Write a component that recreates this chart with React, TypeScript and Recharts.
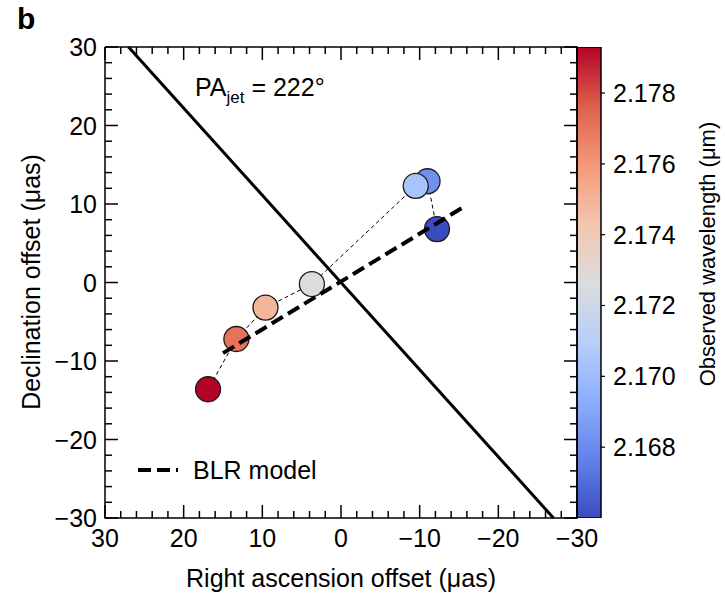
import { ScatterChart, Scatter, XAxis, YAxis, Legend, BarChart, Bar } from 'recharts';

// photocentre offsets (µas), ordered by wavelength from blue to red
const RA_OFFSET = [-12.2, -11.0, -9.5, 3.7, 9.6, 13.3, 16.9];
const DEC_OFFSET = [6.8, 12.9, 12.3, -0.2, -3.2, -7.2, -13.6];
const WAVELENGTH = [2.166, 2.1682, 2.1704, 2.1727, 2.1749, 2.1771, 2.1793];

// BLR model track end points
const BLR_RA = [15.0, -15.4];
const BLR_DEC = [-9.0, 9.5];

const PA_JET = 222; // deg, east of north

const OFFSET_DOMAIN = [-30, 30];
const OFFSET_TICKS = [-30, -28, -26, -24, -22, -20, -18, -16, -14, -12, -10, -8, -6, -4, -2, 0, 2, 4, 6, 8, 10, 12, 14, 16, 18, 20, 22, 24, 26, 28, 30];
const LABEL_TICKS = [-30, -20, -10, 0, 10, 20, 30];

const WL_DOMAIN = [2.166, 2.1793];
const WL_TICKS = [2.168, 2.17, 2.172, 2.174, 2.176, 2.178];

// matplotlib "coolwarm" sampled at 9 points
const COOLWARM = [
  [58, 76, 192],
  [98, 130, 234],
  [141, 175, 253],
  [184, 207, 248],
  [220, 220, 221],
  [243, 198, 175],
  [244, 152, 121],
  [222, 96, 76],
  [179, 3, 38],
];

const FONT = '"Liberation Sans", Arial, Helvetica, sans-serif';

function coolwarm(t: number) {
  const c = Math.min(1, Math.max(0, t)) * (COOLWARM.length - 1);
  const i = Math.min(COOLWARM.length - 2, Math.floor(c));
  const f = c - i;
  const rgb = COOLWARM[i].map((v, k) => Math.round(v + (COOLWARM[i + 1][k] - v) * f));
  return `rgb(${rgb.join(',')})`;
}

const wlColor = (wl: number) => coolwarm((wl - WL_DOMAIN[0]) / (WL_DOMAIN[1] - WL_DOMAIN[0]));

const fmtOffset = (v: number) => (v < 0 ? `\u2212${-v}` : `${v}`);

const [LO, HI] = OFFSET_DOMAIN;

const points = RA_OFFSET.map((ra, i) => ({ ra, dec: DEC_OFFSET[i], wl: WAVELENGTH[i] }));
const blrTrack = BLR_RA.map((ra, i) => ({ ra, dec: BLR_DEC[i] }));
const colorbar = [{ name: 'wavelength', span: WL_DOMAIN }];

// plot frame as a closed loop through the domain corners
const frame = [
  { ra: HI, dec: HI },
  { ra: LO, dec: HI },
  { ra: LO, dec: LO },
  { ra: HI, dec: LO },
  { ra: HI, dec: HI },
];

// inward tick marks on all four sides
const frameTicks = [
  ...OFFSET_TICKS.map((t) => ({ ra: t, dec: LO, tick: t, side: 'bottom' })),
  ...OFFSET_TICKS.map((t) => ({ ra: t, dec: HI, tick: t, side: 'top' })),
  ...OFFSET_TICKS.map((t) => ({ ra: HI, dec: t, tick: t, side: 'left' })),
  ...OFFSET_TICKS.map((t) => ({ ra: LO, dec: t, tick: t, side: 'right' })),
];

// jet axis through the origin, clipped to the Dec range
const paRad = (PA_JET * Math.PI) / 180;
const paReach = HI / Math.abs(Math.cos(paRad));
const jetAxis = [-1, 1].map((s) => ({ ra: s * paReach * Math.sin(paRad), dec: s * paReach * Math.cos(paRad) }));

const TickMark = (props: any) => {
  const { cx, cy } = props;
  const { tick, side } = props.payload ?? props;
  const len = tick % 10 === 0 ? 13 : 7;
  const dx = side === 'left' ? len : side === 'right' ? -len : 0;
  const dy = side === 'bottom' ? -len : side === 'top' ? len : 0;
  return <line x1={cx} y1={cy} x2={cx + dx} y2={cy + dy} stroke="#000" strokeWidth={1.5} />;
};

const bottomLabel = (props: any) => (
  <text x={Number(props.x)} y={Number(props.y) + 29} textAnchor="middle" fontSize={25} fill="#000">
    {fmtOffset(Number(props.payload.value))}
  </text>
);

const leftLabel = (props: any) => (
  <text x={Number(props.x) - 8} y={Number(props.y) + 9} textAnchor="end" fontSize={25} fill="#000">
    {fmtOffset(Number(props.payload.value))}
  </text>
);

const Marker = (props: any) => {
  const wl = props.payload?.wl ?? props.wl;
  return <circle cx={props.cx} cy={props.cy} r={12.5} fill={wlColor(wl)} stroke="#1a1a1a" strokeWidth={1.3} />;
};

const NoMarker = () => <g />;

const RotatedTitle = ({ cx, cy, text, size }: { cx: number; cy: number; text: string; size: number }) => (
  <text
    x={cx}
    y={cy}
    transform={`rotate(-90 ${cx} ${cy})`}
    textAnchor="middle"
    dominantBaseline="central"
    fontSize={size}
    fill="#000"
  >
    {text}
  </text>
);

const xTitle = {
  content: () => (
    <text x={341} y={587} textAnchor="middle" fontSize={25} fill="#000">
      Right ascension offset (μas)
    </text>
  ),
};
const yTitle = { content: () => <RotatedTitle cx={31} cy={282} text="Declination offset (μas)" size={25} /> };
const cbTitle = { content: () => <RotatedTitle cx={707} cy={254} text="Observed wavelength (μm)" size={22} /> };

const BlrLegend = ({ payload }: any) => {
  const items = (payload ?? []).filter((p: any) => p.value === 'BLR model');
  return (
    <div>
      {items.map((p: any) => (
        <div key={p.value} style={{ display: 'flex', alignItems: 'center', fontFamily: FONT }}>
          <svg width={42} height={10}>
            <line x1={1} y1={5} x2={41} y2={5} stroke="#000" strokeWidth={4} strokeDasharray="13 6" />
          </svg>
          <span style={{ marginLeft: 14, fontSize: 25, color: '#000', lineHeight: '28px' }}>{p.value}</span>
        </div>
      ))}
    </div>
  );
};

const frameStroke = { stroke: '#000', strokeWidth: 1.5 };
const legendStyle = { left: 137, top: 456, width: 220 };
const connector = { stroke: '#000', strokeWidth: 1, strokeDasharray: '4 3' };
const blrStroke = { stroke: '#000', strokeWidth: 4, strokeDasharray: '13 6' };
const jetStroke = { stroke: '#000', strokeWidth: 3 };
const wlFormat = (v: number) => v.toFixed(3);

export default function App() {
  return (
    <div style={{ position: 'absolute', left: 0, top: 0, width: 725, height: 593, background: '#fff', fontFamily: FONT }}>
      <div style={{ position: 'absolute', left: 17, top: 2, fontSize: 30, fontWeight: 700 }}>b</div>

      <div style={{ position: 'absolute', left: 0, top: 0 }}>
        <BarChart width={725} height={593} data={colorbar} margin={{ top: 47, right: 0, bottom: 75, left: 577 }} barCategoryGap={0}>
          <defs>
            <linearGradient id="coolwarm" x1="0" y1="1" x2="0" y2="0">
              {COOLWARM.map((c, i) => (
                <stop key={i} offset={i / (COOLWARM.length - 1)} stopColor={`rgb(${c.join(',')})`} />
              ))}
            </linearGradient>
          </defs>
          <XAxis dataKey="name" hide />
          <YAxis
            orientation="right"
            type="number"
            width={124}
            domain={WL_DOMAIN}
            allowDataOverflow
            ticks={WL_TICKS}
            interval={0}
            tickFormatter={wlFormat}
            axisLine={false}
            tickLine={{ stroke: '#000', strokeWidth: 1.2 }}
            tickSize={4}
            tickMargin={8}
            tick={{ fill: '#000', fontSize: 25 }}
            label={cbTitle}
          />
          <Bar dataKey="span" fill="url(#coolwarm)" stroke="#000" strokeWidth={1.5} isAnimationActive={false} />
        </BarChart>
      </div>

      <div style={{ position: 'absolute', left: 0, top: 0 }}>
        <ScatterChart width={725} height={593} margin={{ top: 47, right: 148, bottom: 0, left: 0 }}>
          <XAxis
            type="number"
            dataKey="ra"
            domain={OFFSET_DOMAIN}
            reversed
            ticks={LABEL_TICKS}
            interval={0}
            height={75}
            tickSize={0}
            tickMargin={0}
            tickLine={false}
            axisLine={false}
            tick={bottomLabel}
            label={xTitle}
          />
          <YAxis
            type="number"
            dataKey="dec"
            domain={OFFSET_DOMAIN}
            ticks={LABEL_TICKS}
            interval={0}
            width={105}
            tickSize={0}
            tickMargin={0}
            tickLine={false}
            axisLine={false}
            tick={leftLabel}
            label={yTitle}
          />
          <Scatter name="frame" data={frame} line={frameStroke} shape={NoMarker} legendType="none" isAnimationActive={false} />
          <Scatter name="ticks" data={frameTicks} shape={TickMark} legendType="none" isAnimationActive={false} />
          <Scatter
            name="photocentres"
            data={points}
            line={connector}
            shape={Marker}
            legendType="none"
            isAnimationActive={false}
          />
          <Scatter name="BLR model" data={blrTrack} line={blrStroke} shape={NoMarker} legendType="line" isAnimationActive={false} />
          <Scatter name="jet" data={jetAxis} line={jetStroke} shape={NoMarker} legendType="none" isAnimationActive={false} />
          <Legend layout="horizontal" verticalAlign="middle" align="center" wrapperStyle={legendStyle} content={BlrLegend} />
          <text x={195} y={96} fontSize={25} fill="#000">
            PA
            <tspan fontSize={17} dy={7}>jet</tspan>
            <tspan dy={-7}>{` = ${PA_JET}°`}</tspan>
          </text>
        </ScatterChart>
      </div>
    </div>
  );
}
